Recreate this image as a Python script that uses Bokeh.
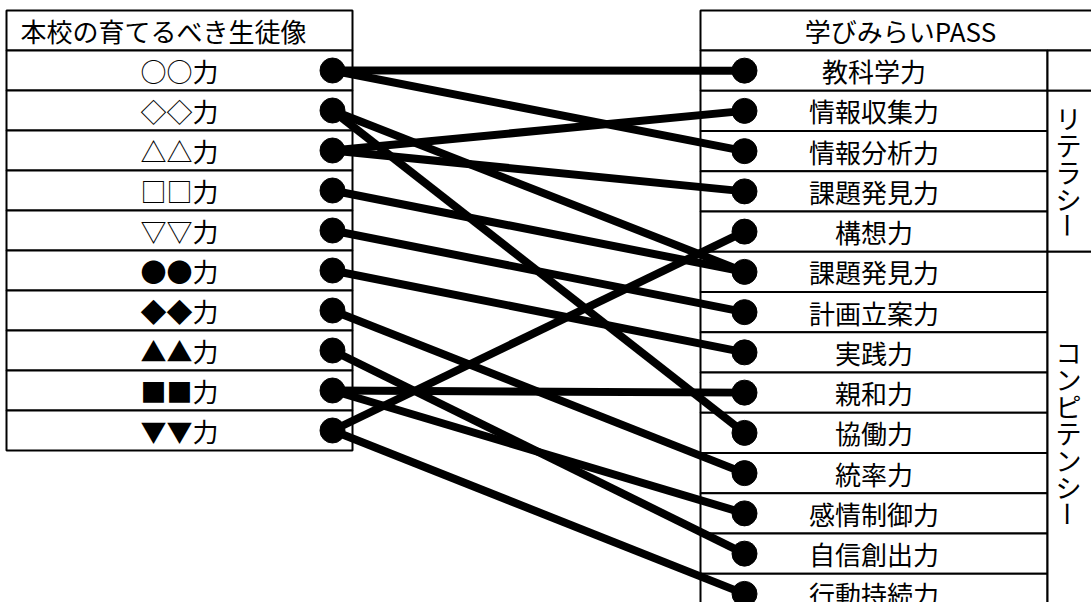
import math
from bokeh.plotting import figure
from bokeh.models import Range1d, ColumnDataSource
from bokeh.embed import file_html
from bokeh.resources import INLINE
from bokeh.core.properties import value

# ---------------- data ----------------
left_title = "本校の育てるべき生徒像"
left_labels = ["○○力", "◇◇力", "△△力", "□□力", "▽▽力",
               "●●力", "◆◆力", "▲▲力", "■■力", "▼▼力"]
right_title = "学びみらいPASS"
right_labels = ["教科学力", "情報収集力", "情報分析力", "課題発見力", "構想力",
                "課題発見力", "計画立案力", "実践力", "親和力", "協働力",
                "統率力", "感情制御力", "自信創出力", "行動持続力"]
group_names = ["", "リテラシー", "コンピテンシー"]
group_first_row = [0, 1, 5]
group_row_count = [1, 4, 9]
link_from = [0, 0, 1, 1, 2, 2, 3, 4, 5, 6, 7, 8, 8, 9, 9]
link_to = [0, 2, 5, 9, 1, 3, 5, 6, 7, 10, 12, 8, 11, 4, 13]

# ---------------- layout (pixels) ----------------
W, H = 1091, 602
TOP = 10
HEAD_H = 40
L_X0, L_X1, L_ROW = 6, 352, 40.0
R_X0, R_X1, R_X2, R_ROW = 700, 1047, 1092, 40.25
L_DOT_X, R_DOT_X = 332, 744
FONT = value("Noto Sans CJK JP")
FS = "26px"

p = figure(width=W, height=H, x_range=Range1d(0, W), y_range=Range1d(H, 0),
           output_backend="svg", toolbar_location=None, min_border=0,
           x_axis_type=None, y_axis_type=None)
p.grid.visible = False
p.outline_line_color = None
p.background_fill_color = "white"
p.border_fill_color = "white"

# ---------------- tables ----------------
def ltop(i):
    return TOP + HEAD_H + L_ROW * i

def rtop(i):
    return TOP + HEAD_H + R_ROW * i

qs = dict(left=[], right=[], top=[], bottom=[])
def cell(x0, x1, y0, y1):
    qs["left"].append(x0); qs["right"].append(x1)
    qs["top"].append(y0); qs["bottom"].append(y1)

cell(L_X0, L_X1, TOP, TOP + HEAD_H)
for i in range(len(left_labels)):
    cell(L_X0, L_X1, ltop(i), ltop(i + 1))
cell(R_X0, R_X2, TOP, TOP + HEAD_H)
for i in range(len(right_labels)):
    cell(R_X0, R_X1, rtop(i), rtop(i + 1))
for g in range(len(group_names)):
    a = group_first_row[g]
    cell(R_X1, R_X2, rtop(a), rtop(a + group_row_count[g]))

p.quad(source=ColumnDataSource(qs), left="left", right="right", top="top", bottom="bottom",
       fill_color="white", line_color="black", line_width=2)

# ---------------- texts ----------------
p.text(x=[L_X0 + 14], y=[TOP + HEAD_H / 2], text=[left_title], text_font=FONT,
       text_font_size=FS, text_align="left", text_baseline="middle", text_color="black")
p.text(x=[(L_X0 + L_X1) / 2] * len(left_labels),
       y=[ltop(i) + L_ROW / 2 for i in range(len(left_labels))],
       text=left_labels, text_font=FONT, text_font_size=FS,
       text_align="center", text_baseline="middle", text_color="black")
p.text(x=[900], y=[TOP + HEAD_H / 2], text=[right_title], text_font=FONT,
       text_font_size=FS, text_align="center", text_baseline="middle", text_color="black")
p.text(x=[(R_X0 + R_X1) / 2] * len(right_labels),
       y=[rtop(i) + R_ROW / 2 for i in range(len(right_labels))],
       text=right_labels, text_font=FONT, text_font_size=FS,
       text_align="center", text_baseline="middle", text_color="black")

# vertical group labels, one character per line
vx, vy, vt, va = [], [], [], []
STEP = 27
for g, name in enumerate(group_names):
    if not name:
        continue
    a = group_first_row[g]
    mid = (rtop(a) + rtop(a + group_row_count[g])) / 2
    n = len(name)
    for k, ch in enumerate(name):
        vx.append(1068)
        vy.append(mid + (k - (n - 1) / 2) * STEP)
        vt.append(ch)
        va.append(-math.pi / 2 if ch == "ー" else 0.0)
p.text(x=vx, y=vy, text=vt, angle=va, text_font=FONT, text_font_size=FS,
       text_align="center", text_baseline="middle", text_color="black")

# ---------------- links ----------------
x0 = [L_DOT_X] * len(link_from)
y0 = [ltop(i) + L_ROW / 2 for i in link_from]
x1 = [R_DOT_X] * len(link_to)
y1 = [rtop(j) + R_ROW / 2 for j in link_to]
p.segment(x0=x0, y0=y0, x1=x1, y1=y1, line_color="black", line_width=8)

p.scatter(x=[L_DOT_X] * len(left_labels),
          y=[ltop(i) + L_ROW / 2 for i in range(len(left_labels))],
          size=25, marker="circle", fill_color="black", line_color="black")
p.scatter(x=[R_DOT_X] * len(right_labels),
          y=[rtop(j) + R_ROW / 2 for j in range(len(right_labels))],
          size=25, marker="circle", fill_color="black", line_color="black")

open("out.html", "w").write(file_html(p, INLINE))
